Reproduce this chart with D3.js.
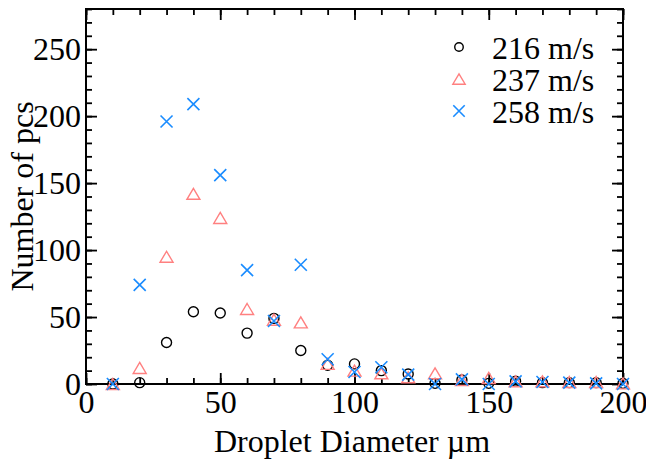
<!DOCTYPE html>
<html><head><meta charset="utf-8">
<script src="https://cdn.jsdelivr.net/npm/d3@7"></script>
<style>
body{margin:0;background:#fff}
svg{display:block}
text{font-family:"Liberation Serif","Times New Roman",serif;fill:#000}
</style>
</head><body><svg id="c" width="646" height="459"></svg>
<script>
const diameters=[10,20,30,40,50,60,70,80,90,100,110,120,130,140,150,160,170,180,190,200];
const v216=[0,1,31,54,53,38,49,25,14,15,10,7.5,0.5,3,0.5,2,1,1,1,0.5];
const v237=[0,12,95,142,124,56,48,46,15,10,8,5,8,3,4.5,2,2,1.5,1.5,0.5];
const v258=[0,74,196,209,156,85,47,89,18.5,9,12.5,7,0,3.5,0,2,1.5,1,0.5,0];
const seriesNames=["216 m/s","237 m/s","258 m/s"];
const xTicks=[0,50,100,150,200];
const yTicks=[0,50,100,150,200,250];
const xMinor=d3.range(0,201,10);
const yMinor=d3.range(0,281,10);
const xLabel="Droplet Diameter µm";
const yLabel="Number of pcs";

const L=86,T=9,R=623,B=384;
const svg=d3.select("#c");
const x=d3.scaleLinear().domain([0,200]).range([L,R]);
const y=d3.scaleLinear().domain([0,280]).range([B,T]);
const fs=32;

function styleAxis(g){g.select(".domain").remove();g.selectAll("line").attr("stroke","#000").attr("stroke-width",1.8);g.selectAll("text").attr("font-size",fs).attr("font-family",'"Liberation Serif","Times New Roman",serif');}
// minor ticks
svg.append("g").attr("transform",`translate(0,${B})`).call(d3.axisBottom(x).tickValues(xMinor).tickSize(-6).tickFormat("")).call(styleAxis);
svg.append("g").attr("transform",`translate(0,${T})`).call(d3.axisTop(x).tickValues(xMinor).tickSize(-6).tickFormat("")).call(styleAxis);
svg.append("g").attr("transform",`translate(${L},0)`).call(d3.axisLeft(y).tickValues(yMinor).tickSize(-6).tickFormat("")).call(styleAxis);
svg.append("g").attr("transform",`translate(${R},0)`).call(d3.axisRight(y).tickValues(yMinor).tickSize(-6).tickFormat("")).call(styleAxis);
// major ticks
svg.append("g").attr("transform",`translate(0,${B})`).call(d3.axisBottom(x).tickValues(xTicks).tickSize(-11).tickPadding(6).tickFormat(d3.format("d"))).call(styleAxis);
svg.append("g").attr("transform",`translate(0,${T})`).call(d3.axisTop(x).tickValues(xTicks).tickSize(-11).tickFormat("")).call(styleAxis);
svg.append("g").attr("transform",`translate(${L},0)`).call(d3.axisLeft(y).tickValues(yTicks).tickSize(-11).tickPadding(5).tickFormat(d3.format("d"))).call(styleAxis);
svg.append("g").attr("transform",`translate(${R},0)`).call(d3.axisRight(y).tickValues(yTicks).tickSize(-11).tickFormat("")).call(styleAxis);
// frame
svg.append("rect").attr("x",L).attr("y",T).attr("width",R-L).attr("height",B-T).attr("fill","none").attr("stroke","#000").attr("stroke-width",2);

// labels
svg.append("text").attr("x",352).attr("y",452).attr("text-anchor","middle").attr("font-size",fs).text(xLabel);
svg.append("text").attr("transform",`translate(33,${(T+B)/2}) rotate(-90)`).attr("text-anchor","middle").attr("font-size",fs).text(yLabel);

const colors=["#000000","#ff8080","#1a8cff"];
function drawMarker(g,type,cx,cy,s){
  if(type===0){g.append("circle").attr("cx",cx).attr("cy",cy).attr("r",5*s).attr("fill","none").attr("stroke",colors[0]).attr("stroke-width",1.4);}
  else if(type===1){const w=6.5*s,h=5.5*s;g.append("path").attr("d",`M${cx},${cy-h}L${cx+w},${cy+h}L${cx-w},${cy+h}Z`).attr("fill","none").attr("stroke",colors[1]).attr("stroke-width",1.4);}
  else {const d=6*s;g.append("path").attr("d",`M${cx-d},${cy-d}L${cx+d},${cy+d}M${cx-d},${cy+d}L${cx+d},${cy-d}`).attr("fill","none").attr("stroke",colors[2]).attr("stroke-width",1.6);}
}
const series=[v216,v237,v258];
series.forEach((vals,si)=>{
  const g=svg.append("g");
  vals.forEach((v,i)=>drawMarker(g,si,x(diameters[i]),y(v),1));
});
// legend
const lg=svg.append("g");
seriesNames.forEach((n,i)=>{
  const cy=47+i*32;
  drawMarker(lg,i,459,cy,i===0?0.85:0.95);
  lg.append("text").attr("x",492).attr("y",cy+12).attr("font-size",fs).text(n);
});
</script></body></html>
